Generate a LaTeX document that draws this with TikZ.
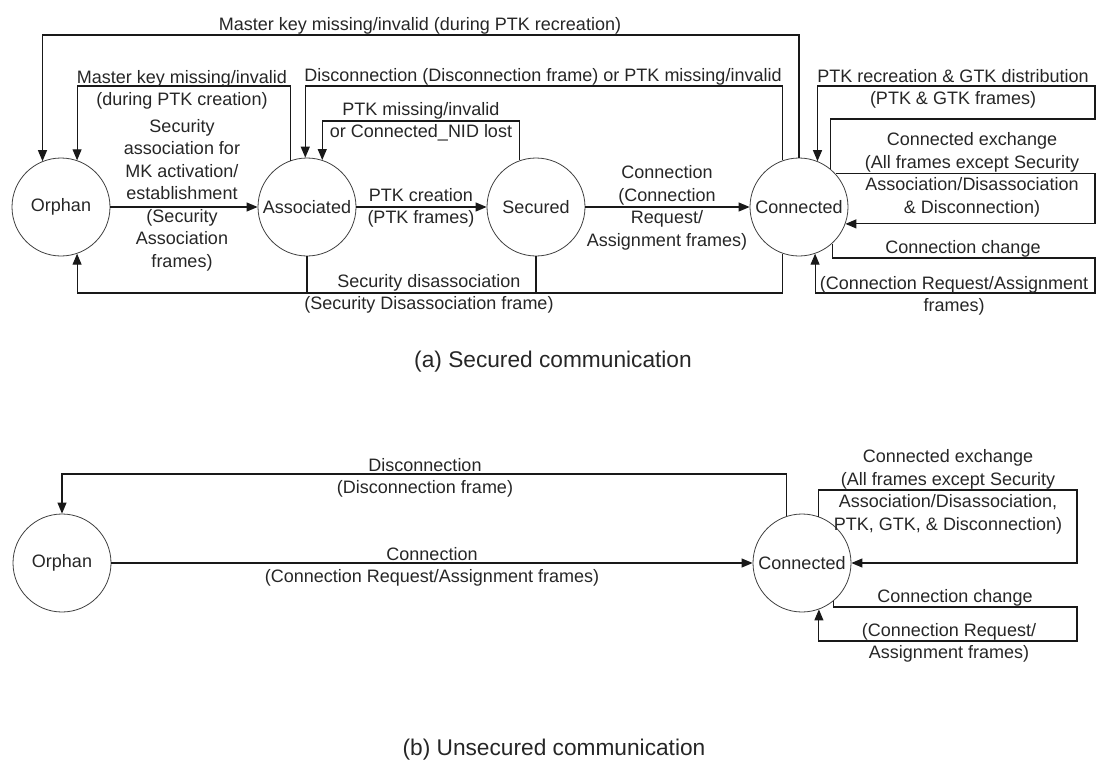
\documentclass[tikz,border=0pt]{standalone}
\usepackage{fontspec}
\setmainfont{Liberation Sans}
\usetikzlibrary{arrows.meta}
\begin{document}
\begin{tikzpicture}[x=1pt,y=-1pt,
  state/.style={circle,draw=black!75,line width=0.8pt,minimum size=98pt,inner sep=0pt,
    font=\fontsize{18}{22.5}\selectfont,text=black!85},
  lbl/.style={inner sep=0pt,align=center,font=\fontsize{18}{22.5}\selectfont,text=black!85},
  capt/.style={inner sep=0pt,font=\fontsize{22.7}{27}\selectfont,text=black!85},
  link/.style={draw=black!90,line width=1.1pt},
  arr/.style={link,-{Triangle[length=11pt,width=9pt]}},
]
\useasboundingbox (0,0) rectangle (1097,760);

% ---------------- (a) secured communication ----------------
\node[state] (orph) at (61,207) {Orphan};
\node[state] (asso) at (307,207) {Associated};
\node[state] (secu) at (536,207) {Secured};
\node[state] (conn) at (799,207) {Connected};
\coordinate (rim) at (1095,0);

% forward transitions
\draw[arr] (orph.east) -- (asso.west);
\draw[arr] (asso.east) -- (secu.west);
\draw[arr] (secu.east) -- (conn.west);

% backward transitions above the states
\draw[arr] (conn.north) -- (conn.north |- 0,35) -| (orph.112);
\draw[arr] (asso.110) -- (asso.110 |- 0,86) -| (orph.71);
\draw[arr] (conn.109) -- (conn.109 |- 0,86) -| (asso.92);
\draw[arr] (secu.109) -- (secu.109 |- 0,121) -| (asso.72);

% security disassociation below the states
\draw[arr] (conn.251) -- (conn.251 |- 0,293) -| (orph.289);
\draw[link] (asso.south) -- (asso.south |- 0,293);
\draw[link] (secu.south) -- (secu.south |- 0,293);

% self loops of Connected
\draw[arr] (conn.51) -- (conn.51 |- 0,119) -- (rim |- 0,119) -- (rim |- 0,86) -| (conn.68);
\draw[arr] (conn.42) -- (rim |- conn.42) -- (rim |- conn.340) -- (conn.340);
\draw[arr] (conn.312) -- (conn.312 |- 0,258) -- (rim |- 0,258) -- (rim |- 0,293) -| (conn.289);

% labels
\node[lbl] (l1) at (420,26) {Master key missing/invalid (during PTK recreation)};
\node[lbl] (l2) at (182,90) {Master key missing/invalid\\(during PTK creation)};
\node[lbl] (l3) at (543,77) {Disconnection (Disconnection frame) or PTK missing/invalid};
\node[lbl] (l4) at (421,122) {PTK missing/invalid\\or Connected\_NID lost};
\node[lbl] (l5) at (182,195) {Security\\association for\\MK activation/\\establishment\\(Security\\Association\\frames)};
\node[lbl] (l6) at (421,208) {PTK creation\\(PTK frames)};
\node[lbl] (l7) at (667,208) {Connection\\(Connection\\Request/\\Assignment frames)};
\node[lbl] (l8) at (429,294) {Security disassociation\\(Security Disassociation frame)};
\node[lbl] (l9) at (953,89) {PTK recreation \& GTK distribution\\(PTK \& GTK frames)};
\node[lbl] (l10) at (972,175) {Connected exchange\\(All frames except Security\\Association/Disassociation\\\& Disconnection)};
\node[lbl] (l11) at (963,249) {Connection change};
\node[lbl] (l12) at (954,296) {(Connection Request/Assignment\\frames)};

\node[capt] (capa) at (553,362) {(a) Secured communication};

% ---------------- (b) unsecured communication ----------------
\node[state] (orphB) at (62,563) {Orphan};
\node[state] (connB) at (802,563) {Connected};
\coordinate (rimB) at (1077,0);

\draw[arr] (orphB.east) -- (connB.west);
\draw[arr] (connB.108) -- (connB.108 |- 0,474) -| (orphB.north);
\draw[arr] (connB.70) -- (connB.70 |- 0,490) -- (rimB |- 0,490) -- (rimB |- connB.east) -- (connB.east);
\draw[arr] (connB.309) -- (connB.309 |- 0,607) -- (rimB |- 0,607) -- (rimB |- 0,641) -| (connB.290);

\node[lbl] (m1) at (425,478) {Disconnection\\(Disconnection frame)};
\node[lbl] (m2) at (432,567) {Connection\\(Connection Request/Assignment frames)};
\node[lbl] (m3) at (948,492) {Connected exchange\\(All frames except Security\\Association/Disassociation,\\PTK, GTK, \& Disconnection)};
\node[lbl] (m4) at (955,598) {Connection change};
\node[lbl] (m5) at (949,643) {(Connection Request/\\Assignment frames)};

\node[capt] (capb) at (554,750) {(b) Unsecured communication};
\end{tikzpicture}
\end{document}
